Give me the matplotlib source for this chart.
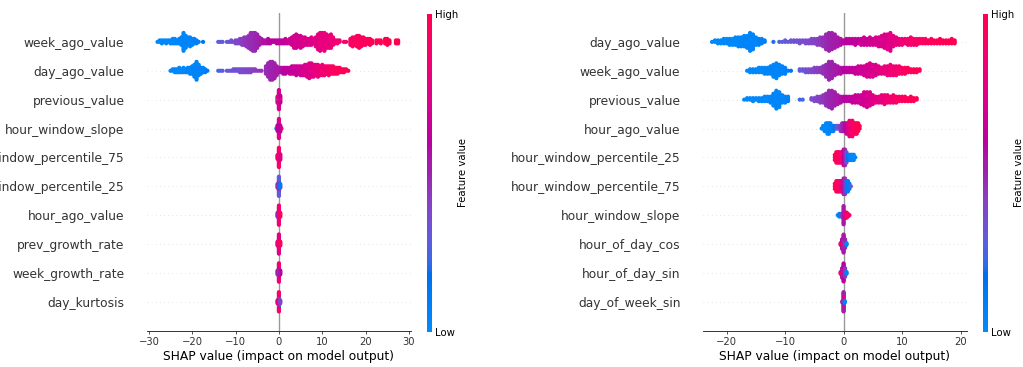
import numpy as np
import matplotlib
matplotlib.use('Agg')
import matplotlib.pyplot as plt
from matplotlib.colors import LinearSegmentedColormap
from matplotlib import cm

# ---------------- data ----------------
# main features: dot counts per 0.5-wide SHAP bin, plus mean (normalised) feature value per bin
BIN = 0.5

# left model
week_ago_l_start = -28.0
week_ago_l_counts = [1, 2, 3, 2, 3, 2, 3, 4, 4, 3,
                     4, 6, 13, 9, 6, 7, 5, 4, 3, 1,
                     0, 1, 0, 0, 0, 0, 0, 0, 1, 1,
                     1, 0, 1, 1, 2, 1, 3, 3, 4, 5,
                     6, 7, 9, 12, 13, 13, 10, 6, 4, 3,
                     3, 4, 3, 2, 2, 3, 3, 3, 3, 4,
                     3, 4, 6, 9, 10, 8, 9, 7, 6, 5,
                     5, 6, 4, 7, 11, 13, 12, 13, 10, 9,
                     10, 6, 3, 3, 2, 0, 1, 1, 0, 5,
                     7, 6, 8, 9, 7, 6, 5, 4, 5, 3,
                     0, 3, 2, 3, 0, 4, 5, 3, 0, 0, 3, 3]
week_ago_l_fval = [0.02, 0.02, 0.02, 0.02, 0.02, 0.02, 0.02, 0.03, 0.03, 0.03,
                   0.03, 0.04, 0.04, 0.04, 0.05, 0.05, 0.05, 0.06, 0.07, 0.08,
                   0.1, 0.15, 0.2, 0.2, 0.2, 0.2, 0.2, 0.25, 0.28, 0.3,
                   0.3, 0.3, 0.32, 0.33, 0.34, 0.35, 0.36, 0.38, 0.4, 0.42,
                   0.44, 0.45, 0.46, 0.47, 0.48, 0.49, 0.5, 0.52, 0.54, 0.56,
                   0.57, 0.58, 0.59, 0.6, 0.6, 0.61, 0.62, 0.63, 0.64, 0.65,
                   0.66, 0.67, 0.68, 0.69, 0.7, 0.7, 0.71, 0.72, 0.72, 0.73,
                   0.74, 0.74, 0.75, 0.76, 0.77, 0.78, 0.79, 0.8, 0.8, 0.81,
                   0.82, 0.83, 0.84, 0.85, 0.86, 0.87, 0.88, 0.89, 0.9, 0.91,
                   0.92, 0.93, 0.93, 0.94, 0.95, 0.95, 0.96, 0.96, 0.97, 0.97,
                   0.98, 0.98, 0.98, 0.99, 0.99, 0.99, 1.0, 1.0, 1.0, 1.0, 1.0, 1.0]

day_ago_l_start = -25.0
day_ago_l_counts = [1, 2, 3, 3, 4, 3, 4, 3, 4, 5,
                    6, 9, 13, 8, 5, 4, 3, 1, 0, 0,
                    0, 0, 1, 1, 1, 0, 1, 1, 1, 2,
                    2, 2, 3, 3, 3, 3, 3, 3, 2, 2,
                    1, 1, 1, 0, 6, 10, 13, 13, 11, 7,
                    4, 4, 5, 5, 4, 5, 6, 6, 7, 6,
                    7, 7, 8, 9, 11, 10, 9, 8, 9, 7,
                    8, 7, 6, 7, 6, 6, 5, 5, 4, 3,
                    3, 2, 1]
day_ago_l_fval = [0.02, 0.02, 0.02, 0.02, 0.03, 0.03, 0.03, 0.03, 0.04, 0.04,
                  0.04, 0.05, 0.05, 0.05, 0.06, 0.07, 0.08, 0.12, 0.15, 0.18,
                  0.2, 0.22, 0.25, 0.27, 0.28, 0.3, 0.3, 0.31, 0.32, 0.33,
                  0.34, 0.35, 0.35, 0.36, 0.37, 0.38, 0.39, 0.4, 0.41, 0.42,
                  0.43, 0.44, 0.45, 0.46, 0.48, 0.49, 0.5, 0.51, 0.52, 0.53,
                  0.55, 0.57, 0.58, 0.6, 0.61, 0.62, 0.64, 0.65, 0.66, 0.67,
                  0.68, 0.7, 0.71, 0.72, 0.74, 0.75, 0.77, 0.79, 0.8, 0.82,
                  0.84, 0.86, 0.88, 0.9, 0.91, 0.93, 0.94, 0.95, 0.96, 0.97,
                  0.98, 0.99, 1.0]

# right model
day_ago_r_start = -22.5
day_ago_r_counts = [1, 2, 3, 3, 4, 4, 5, 5, 6, 7,
                    7, 8, 9, 13, 11, 6, 5, 4, 2, 0,
                    0, 1, 0, 1, 1, 2, 1, 2, 2, 2,
                    3, 2, 3, 3, 4, 4, 5, 6, 7, 11,
                    13, 12, 10, 7, 5, 3, 4, 4, 4, 5,
                    4, 5, 6, 5, 6, 5, 6, 7, 8, 10,
                    11, 13, 8, 6, 5, 5, 4, 5, 6, 5,
                    5, 4, 4, 4, 3, 4, 3, 3, 4, 3,
                    3, 3, 4, 3]
day_ago_r_fval = [0.02, 0.02, 0.02, 0.02, 0.02, 0.03, 0.03, 0.03, 0.03, 0.03,
                  0.04, 0.04, 0.04, 0.05, 0.05, 0.05, 0.06, 0.07, 0.08, 0.1,
                  0.15, 0.2, 0.24, 0.27, 0.29, 0.3, 0.31, 0.32, 0.33, 0.34,
                  0.35, 0.36, 0.37, 0.38, 0.39, 0.4, 0.42, 0.44, 0.46, 0.48,
                  0.5, 0.51, 0.52, 0.54, 0.56, 0.58, 0.6, 0.61, 0.62, 0.63,
                  0.64, 0.65, 0.66, 0.67, 0.68, 0.69, 0.7, 0.71, 0.72, 0.73,
                  0.74, 0.75, 0.77, 0.79, 0.81, 0.83, 0.85, 0.87, 0.89, 0.9,
                  0.91, 0.92, 0.93, 0.94, 0.95, 0.96, 0.96, 0.97, 0.97, 0.98,
                  0.98, 0.99, 1.0, 1.0]

week_ago_r_start = -16.5
week_ago_r_counts = [1, 3, 3, 3, 4, 4, 5, 5, 6, 9,
                     11, 8, 6, 5, 1, 1, 0, 0, 2, 2,
                     3, 3, 3, 4, 4, 4, 6, 9, 13, 12,
                     8, 6, 5, 4, 4, 4, 4, 5, 6, 6,
                     7, 9, 10, 9, 8, 6, 5, 6, 7, 8,
                     7, 7, 6, 5, 5, 4, 3, 3, 3, 2]
week_ago_r_fval = [0.02, 0.02, 0.02, 0.02, 0.03, 0.03, 0.03, 0.04, 0.04, 0.04,
                   0.05, 0.05, 0.06, 0.07, 0.1, 0.14, 0.2, 0.25, 0.3, 0.32,
                   0.34, 0.36, 0.38, 0.4, 0.42, 0.44, 0.46, 0.48, 0.5, 0.51,
                   0.53, 0.55, 0.57, 0.59, 0.6, 0.62, 0.63, 0.64, 0.66, 0.67,
                   0.68, 0.7, 0.71, 0.72, 0.73, 0.75, 0.77, 0.79, 0.81, 0.83,
                   0.85, 0.87, 0.89, 0.91, 0.93, 0.95, 0.96, 0.97, 0.98, 1.0]

previous_r_start = -17.0
previous_r_counts = [1, 2, 2, 3, 2, 3, 3, 4, 4, 5,
                     9, 13, 11, 6, 5, 4, 0, 0, 0, 1,
                     1, 0, 0, 2, 3, 4, 5, 6, 9, 12,
                     13, 10, 7, 5, 4, 4, 4, 5, 6, 6,
                     7, 10, 11, 10, 7, 5, 5, 6, 7, 6,
                     5, 6, 5, 4, 4, 4, 3, 4, 3, 2]
previous_r_fval = [0.02, 0.02, 0.02, 0.02, 0.02, 0.03, 0.03, 0.03, 0.03, 0.04,
                   0.04, 0.04, 0.05, 0.05, 0.06, 0.07, 0.1, 0.14, 0.18, 0.22,
                   0.24, 0.28, 0.32, 0.36, 0.38, 0.4, 0.42, 0.44, 0.47, 0.49,
                   0.5, 0.52, 0.54, 0.56, 0.58, 0.6, 0.62, 0.63, 0.65, 0.66,
                   0.68, 0.69, 0.7, 0.72, 0.74, 0.76, 0.78, 0.8, 0.82, 0.84,
                   0.86, 0.88, 0.9, 0.92, 0.94, 0.95, 0.96, 0.97, 0.98, 1.0]

# weak features: (shap value, number of dots, feature value) stacks
previous_l = [(0.0, 4, 0.8), (0.0, 3, 0.05), (0.0, 8, 0.85), (0.0, 10, 0.7),
              (-0.3, 5, 0.1), (0.3, 6, 0.95), (-0.3, 4, 0.8), (0.3, 4, 0.6)]
hour_slope_l = [(0.0, 5, 0.7), (-0.6, 1, 0.05), (-0.3, 2, 0.1), (0.0, 8, 0.55),
                (0.0, 12, 0.75), (0.3, 3, 0.9), (0.6, 1, 0.95), (0.3, 6, 0.65),
                (-0.3, 6, 0.6)]
hour_p75_l = [(0.0, 3, 0.95), (0.3, 2, 1.0), (0.0, 10, 0.8), (0.0, 12, 0.9),
              (-0.3, 6, 0.85), (0.3, 6, 0.75)]
hour_p25_l = [(0.0, 3, 0.9), (0.0, 4, 0.05), (0.0, 8, 0.5), (0.0, 10, 0.3),
              (0.3, 2, 0.95), (-0.3, 6, 0.45), (0.3, 4, 0.1)]
hour_ago_l = [(0.0, 3, 0.95), (0.0, 6, 0.75), (0.0, 16, 0.85), (-0.3, 6, 0.5),
              (0.3, 6, 0.95)]
prev_growth_l = [(0.0, 3, 0.55), (0.0, 10, 0.9), (0.0, 12, 0.75), (-0.3, 6, 0.8),
                 (0.3, 6, 0.95)]
week_growth_l = [(-0.3, 2, 0.1), (0.0, 4, 0.3), (0.0, 8, 0.55), (0.0, 12, 0.85),
                 (0.3, 6, 0.6), (-0.3, 4, 0.5)]
day_kurtosis_l = [(0.0, 3, 0.05), (0.0, 6, 0.5), (0.0, 6, 0.1), (0.0, 10, 0.9),
                  (-0.3, 5, 0.8), (0.3, 5, 0.4)]

hour_ago_r = [(-3.75, 1, 0.02), (-3.5, 2, 0.02), (-3.25, 3, 0.02), (-3.0, 4, 0.02),
              (-2.75, 5, 0.03), (-2.5, 5, 0.03), (-2.25, 4, 0.04), (-2.0, 3, 0.05),
              (-1.75, 3, 0.08), (-1.5, 2, 0.15), (-1.25, 2, 0.25), (-1.0, 2, 0.32),
              (-0.75, 2, 0.38), (-0.5, 3, 0.43), (-0.25, 4, 0.48), (0.0, 4, 0.52),
              (0.25, 4, 0.58), (0.5, 5, 0.65), (0.75, 5, 0.72), (1.0, 7, 0.8),
              (1.25, 5, 0.85), (1.5, 7, 0.9), (1.75, 5, 0.93), (2.0, 5, 0.95),
              (2.25, 5, 0.97), (2.5, 4, 0.98), (2.75, 2, 1.0)]
hour_p25_r = [(-1.5, 3, 0.95), (-1.25, 5, 0.97), (-1.0, 5, 0.95), (-0.75, 5, 0.93),
              (-0.5, 5, 0.9), (-0.25, 5, 0.85), (0.0, 7, 0.6), (0.25, 7, 0.5),
              (0.5, 5, 0.35), (0.75, 3, 0.15), (1.0, 3, 0.08), (1.25, 3, 0.05),
              (1.5, 3, 0.03), (1.75, 3, 0.02), (2.0, 1, 0.02)]
hour_p75_r = [(-1.5, 3, 0.97), (-1.25, 5, 0.95), (-1.0, 5, 0.95), (-0.75, 5, 0.9),
              (-0.5, 5, 0.85), (-0.25, 5, 0.75), (0.0, 7, 0.55), (0.25, 7, 0.45),
              (0.5, 5, 0.2), (0.75, 5, 0.1), (1.0, 3, 0.1), (1.25, 1, 0.3)]
hour_slope_r = [(-1.0, 1, 0.05), (-0.75, 3, 0.05), (-0.5, 3, 0.1), (-0.25, 3, 0.4),
                (0.0, 15, 0.55), (0.25, 5, 0.8), (0.5, 5, 0.85), (0.75, 3, 0.9),
                (1.0, 1, 0.9)]
hod_cos_r = [(-0.5, 3, 0.9), (-0.25, 5, 0.95), (-0.25, 6, 0.6), (0.0, 5, 0.8),
             (0.0, 6, 0.45), (0.0, 9, 0.55), (0.25, 4, 0.05), (0.25, 6, 0.5),
             (0.5, 3, 0.05)]
hod_sin_r = [(-0.5, 3, 0.95), (-0.25, 5, 0.9), (-0.25, 6, 0.55), (0.0, 5, 0.75),
             (0.0, 6, 0.5), (0.0, 9, 0.6), (0.25, 4, 0.1), (0.25, 6, 0.45),
             (0.5, 3, 0.05)]
dow_sin_r = [(0.0, 3, 0.95), (0.0, 4, 0.5), (0.0, 4, 0.05), (0.0, 6, 0.55),
             (0.0, 4, 0.9), (0.0, 6, 0.5), (-0.2, 3, 0.5), (0.2, 3, 0.05)]


def grid(start, counts, fvals):
    return [(start + i * BIN, n, c) for i, (n, c) in enumerate(zip(counts, fvals))]


# features listed top to bottom
left_names = ['week_ago_value', 'day_ago_value', 'previous_value', 'hour_window_slope',
              'hour_window_percentile_75', 'hour_window_percentile_25', 'hour_ago_value',
              'prev_growth_rate', 'week_growth_rate', 'day_kurtosis']
left_data = [grid(week_ago_l_start, week_ago_l_counts, week_ago_l_fval),
             grid(day_ago_l_start, day_ago_l_counts, day_ago_l_fval),
             previous_l, hour_slope_l, hour_p75_l, hour_p25_l, hour_ago_l,
             prev_growth_l, week_growth_l, day_kurtosis_l]

right_names = ['day_ago_value', 'week_ago_value', 'previous_value', 'hour_ago_value',
               'hour_window_percentile_25', 'hour_window_percentile_75',
               'hour_window_slope', 'hour_of_day_cos', 'hour_of_day_sin', 'day_of_week_sin']
right_data = [grid(day_ago_r_start, day_ago_r_counts, day_ago_r_fval),
              grid(week_ago_r_start, week_ago_r_counts, week_ago_r_fval),
              grid(previous_r_start, previous_r_counts, previous_r_fval),
              hour_ago_r, hour_p25_r, hour_p75_r, hour_slope_r,
              hod_cos_r, hod_sin_r, dow_sin_r]


# ---------------- shap-style red/blue colormap (LCH blend) ----------------
def lch_to_rgb(l, c, h):
    a, b = c * np.cos(h), c * np.sin(h)
    fy = (l + 16.0) / 116.0
    f = np.array([fy + a / 500.0, fy, fy - b / 200.0])
    f = np.where(f > 0.2068966, f ** 3, (f - 16.0 / 116.0) / 7.787)
    xyz = f * np.array([0.95047, 1.0, 1.08883])
    m = np.array([[3.2406, -1.5372, -0.4986],
                  [-0.9689, 1.8758, 0.0415],
                  [0.0557, -0.2040, 1.0570]])
    rgb = m @ xyz
    rgb = np.where(rgb > 0.0031308, 1.055 * np.abs(rgb) ** (1 / 2.4) - 0.055, 12.92 * rgb)
    return np.clip(rgb, 0, 1)


blue_lch = [54., 70., 4.6588]
red_lch = [54., 90., 0.35470565 + 2 * np.pi]
nsteps = 100
l_vals = list(np.linspace(blue_lch[0], 40., nsteps // 2)) + list(np.linspace(40., red_lch[0], nsteps // 2))
c_vals = np.linspace(blue_lch[1], red_lch[1], nsteps)
h_vals = np.linspace(blue_lch[2], red_lch[2], nsteps)
red_blue = LinearSegmentedColormap.from_list(
    'red_blue', [lch_to_rgb(l, c, h) for l, c, h in zip(l_vals, c_vals, h_vals)])


def beeswarm(ax, row, stacks):
    xs, ys, cs = [], [], []
    layer = {}
    for x, n, c in stacks:
        for _ in range(n):
            k = layer.get(x, 0)
            xs.append(x)
            ys.append(np.ceil(k / 2) * ((k % 2) * 2 - 1))
            cs.append(c)
            layer[x] = k + 1
    ys = np.array(ys, dtype=float)
    ys *= 0.9 * (0.4 / np.max(ys + 1))
    ax.scatter(xs, row + ys, c=cs, cmap=red_blue, vmin=0, vmax=1, s=9,
               linewidth=0, zorder=3)


def summary(ax, cax, names, data, xlim, xticks):
    nrow = len(names)
    ax.axvline(0, color='#999999', lw=1.0, zorder=-1)
    for i, (name, stacks) in enumerate(zip(names, data)):
        row = nrow - 1 - i
        ax.axhline(row, color='#cccccc', lw=0.5, dashes=(1, 5), zorder=-1)
        beeswarm(ax, row, stacks)
    ax.set_yticks(range(nrow))
    ax.set_yticklabels(names[::-1], fontsize=8.8)
    ax.set_ylim(-1, nrow)
    ax.set_xlim(*xlim)
    ax.set_xticks(xticks)
    ax.xaxis.set_ticks_position('bottom')
    ax.yaxis.set_ticks_position('none')
    for s in ['right', 'top', 'left']:
        ax.spines[s].set_visible(False)
    ax.spines['bottom'].set_color('#333333')
    ax.spines['bottom'].set_linewidth(0.7)
    ax.tick_params(color='#333333', labelcolor='#333333')
    ax.tick_params('y', length=0, pad=16)
    ax.tick_params('x', labelsize=7.2, length=2.4, width=0.6, pad=2)
    ax.set_xlabel('SHAP value (impact on model output)', fontsize=8.8, labelpad=2)

    m = cm.ScalarMappable(cmap=red_blue)
    m.set_array([0, 1])
    cb = plt.colorbar(m, cax=cax, ticks=[0, 1])
    cb.set_ticklabels(['Low', 'High'])
    cb.set_label('Feature value', size=7.3, labelpad=0)
    cb.ax.tick_params(labelsize=7.3, length=0, pad=2)
    cb.outline.set_visible(False)


W, H = 1023, 367
fig = plt.figure(figsize=(W / 100, H / 100), dpi=100)
ax_l = fig.add_axes([146.7 / W, 36.3 / H, 264 / W, 317.7 / H])
cax_l = fig.add_axes([426.7 / W, 35.3 / H, 5.3 / W, 317.7 / H])
ax_r = fig.add_axes([702.7 / W, 36.3 / H, 264 / W, 317.7 / H])
cax_r = fig.add_axes([982.7 / W, 35.3 / H, 5.3 / W, 317.7 / H])

summary(ax_l, cax_l, left_names, left_data, (-30.5, 30.4), [-30, -20, -10, 0, 10, 20, 30])
summary(ax_r, cax_r, right_names, right_data, (-24.1, 21.06), [-20, -10, 0, 10, 20])

fig.savefig('out.png', dpi=100)
